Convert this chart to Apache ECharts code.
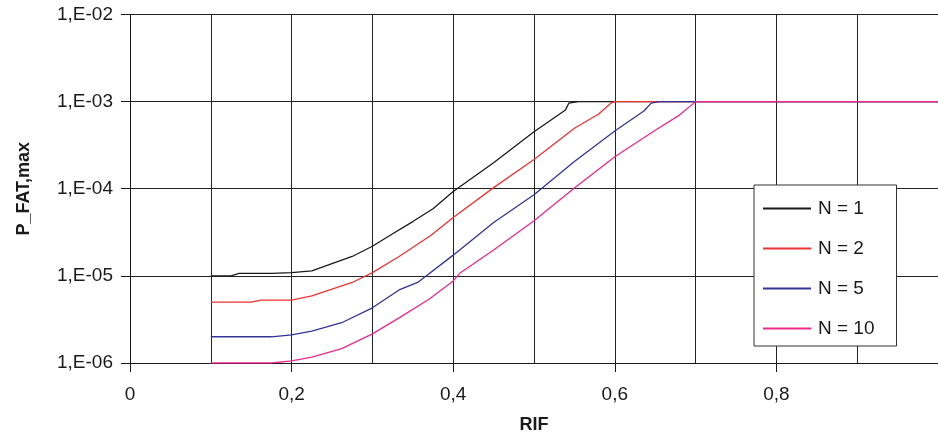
<!DOCTYPE html>
<html>
<head>
<meta charset="utf-8">
<script src="https://cdn.jsdelivr.net/npm/echarts@6/dist/echarts.min.js"></script>
<style>
html,body{margin:0;padding:0;background:#fff;}
#chart{width:938px;height:439px;}
</style>
</head>
<body>
<div id="chart"></div>
<script>
// Data
var seriesNames = ['N = 1', 'N = 2', 'N = 5', 'N = 10'];
var rifN1 = [0.1, 0.125, 0.135, 0.175, 0.2, 0.225, 0.275, 0.3, 0.32, 0.35, 0.375, 0.4, 0.45, 0.5, 0.539, 0.543, 0.555, 1.0];
var pN1 = [1.0e-5, 1.0e-5, 1.066e-5, 1.066e-5, 1.09e-5, 1.14e-5, 1.67e-5, 2.19e-5, 2.85e-5, 4.2e-5, 5.9e-5, 9.3e-5, 1.99e-4, 4.5e-4, 8.0e-4, 9.6e-4, 1.0e-3, 1.0e-3];
var rifN2 = [0.1, 0.15, 0.162, 0.2, 0.225, 0.275, 0.3, 0.333, 0.373, 0.4, 0.45, 0.5, 0.55, 0.58, 0.595, 0.6, 1.0];
var pN2 = [5.0e-6, 5.0e-6, 5.28e-6, 5.28e-6, 5.9e-6, 8.4e-6, 1.09e-5, 1.67e-5, 2.95e-5, 4.67e-5, 1.03e-4, 2.17e-4, 4.94e-4, 7.2e-4, 9.6e-4, 1.0e-3, 1.0e-3];
var rifN5 = [0.1, 0.175, 0.2, 0.225, 0.262, 0.3, 0.333, 0.356, 0.4, 0.45, 0.5, 0.55, 0.6, 0.636, 0.645, 0.655, 1.0];
var pN5 = [2.0e-6, 2.0e-6, 2.1e-6, 2.32e-6, 2.9e-6, 4.3e-6, 6.9e-6, 8.4e-6, 1.73e-5, 4.1e-5, 8.55e-5, 2.06e-4, 4.6e-4, 7.8e-4, 9.6e-4, 1.0e-3, 1.0e-3];
var rifN10 = [0.1, 0.175, 0.2, 0.225, 0.262, 0.3, 0.333, 0.37, 0.4, 0.408, 0.45, 0.5, 0.55, 0.6, 0.65, 0.68, 0.7, 1.0];
var pN10 = [1.0e-6, 1.0e-6, 1.06e-6, 1.17e-6, 1.46e-6, 2.16e-6, 3.3e-6, 5.4e-6, 8.75e-6, 1.07e-5, 1.98e-5, 4.3e-5, 1.02e-4, 2.33e-4, 4.7e-4, 7.0e-4, 1.0e-3, 1.0e-3];
var seriesColors = ['#1a1a1a', '#ee3333', '#333399', '#ee2a8a'];

function pairs(xs, ys) {
  return xs.map(function (x, i) { return [x, ys[i]]; });
}
var allX = [rifN1, rifN2, rifN5, rifN10];
var allY = [pN1, pN2, pN5, pN10];

var FONT = '"Liberation Sans", Arial, Helvetica, sans-serif';
var chart = echarts.init(document.getElementById('chart'), null, {renderer: 'canvas'});
var option = {
  animation: false,
  backgroundColor: '#ffffff',
  textStyle: {fontFamily: FONT},
  grid: {left: 130, right: -3, top: 14.5, bottom: 75.7, containLabel: false},
  legend: {
    orient: 'vertical',
    left: 754, top: 185,
    padding: [14, 22, 8, 8],
    itemWidth: 48, itemHeight: 20, itemGap: 21,
    backgroundColor: '#ffffff',
    borderColor: '#333333', borderWidth: 1, borderRadius: 0,
    itemStyle: {opacity: 0},
    textStyle: {fontFamily: FONT, fontSize: 19, color: '#1a1a1a', padding: [0, 0, 0, 2]},
    data: seriesNames
  },
  xAxis: {
    type: 'value',
    min: 0, max: 1, interval: 0.2,
    name: 'RIF', nameLocation: 'middle', nameGap: 53,
    nameTextStyle: {fontFamily: FONT, fontSize: 18, fontWeight: 'bold', color: '#1a1a1a'},
    axisLine: {show: true, onZero: false, lineStyle: {color: '#1a1a1a', width: 1}},
    axisTick: {show: true, inside: false, length: 9, lineStyle: {color: '#1a1a1a'}},
    axisLabel: {
      margin: 22, fontSize: 19, color: '#1a1a1a', fontFamily: FONT,
      showMaxLabel: false,
      formatter: function (v) {
        if (v > 0.99) return '';
        if (v === 0) return '0';
        return v.toFixed(1).replace('.', ',');
      }
    },
    splitLine: {show: true, lineStyle: {color: '#222222', width: 1}},
    minorTick: {show: false, splitNumber: 2},
    minorSplitLine: {show: true, lineStyle: {color: '#222222', width: 1}}
  },
  yAxis: {
    type: 'log', logBase: 10,
    min: 1e-6, max: 1e-2,
    name: 'P_FAT,max', nameLocation: 'middle', nameGap: 97,
    nameTextStyle: {fontFamily: FONT, fontSize: 18, fontWeight: 'bold', color: '#1a1a1a'},
    axisLine: {show: true, lineStyle: {color: '#1a1a1a', width: 1}},
    axisTick: {show: true, inside: false, length: 9, lineStyle: {color: '#1a1a1a'}},
    axisLabel: {
      margin: 17, fontSize: 19, color: '#1a1a1a', fontFamily: FONT,
      formatter: function (v) {
        var e = Math.round(Math.log10(v));
        var s = String(Math.abs(e));
        if (s.length < 2) s = '0' + s;
        return '1,E' + (e < 0 ? '-' : '+') + s;
      }
    },
    splitLine: {show: true, lineStyle: {color: '#222222', width: 1}},
    minorTick: {show: false},
    minorSplitLine: {show: false}
  },
  series: seriesNames.map(function (name, i) {
    return {
      name: name,
      type: 'line',
      data: pairs(allX[i], allY[i]),
      symbol: 'none',
      smooth: false,
      clip: true,
      color: seriesColors[i],
      lineStyle: {color: seriesColors[i], width: 1.3},
      z: 2 + i
    };
  })
};
chart.setOption(option);
</script>
</body>
</html>
